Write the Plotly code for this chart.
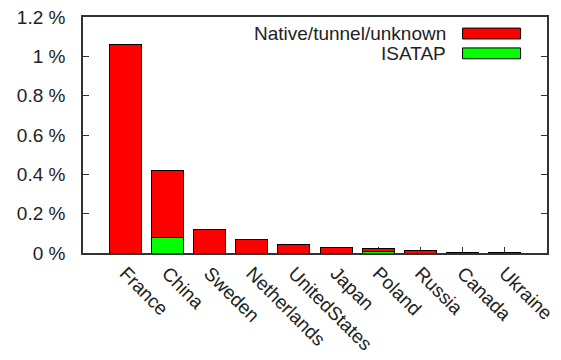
import plotly.graph_objects as go

countries = ["France", "China", "Sweden", "Netherlands", "UnitedStates",
             "Japan", "Poland", "Russia", "Canada", "Ukraine"]
isatap = [0.0, 0.08, 0.0, 0.0, 0.0, 0.0, 0.006, 0.0, 0.0, 0.0]
native = [1.06, 0.34, 0.12, 0.068, 0.043, 0.029, 0.017, 0.014, 0.003, 0.003]
ytick_vals = [0, 0.2, 0.4, 0.6, 0.8, 1.0, 1.2]
ytick_text = ["0 %", "0.2 %", "0.4 %", "0.6 %", "0.8 %", "1 %", "1.2 %"]
legend_names = ["Native/tunnel/unknown", "ISATAP"]
legend_colors = ["#ff0000", "#00ff00"]

FONT = "Liberation Sans, Arial, sans-serif"
TXT = "#222222"
FS = 19

fig = go.Figure()
fig.add_trace(go.Bar(x=countries, y=isatap, name=legend_names[1],
                     marker=dict(color=legend_colors[1], line=dict(color="black", width=1)),
                     width=0.76, showlegend=False))
fig.add_trace(go.Bar(x=countries, y=native, name=legend_names[0],
                     marker=dict(color=legend_colors[0], line=dict(color="black", width=1)),
                     width=0.76, showlegend=False))

# legend drawn manually (text right-aligned, swatch on right)
leg_y = [0.930, 0.846]
for name, col, yy in zip(legend_names, legend_colors, leg_y):
    fig.add_annotation(xref="paper", yref="paper", x=0.787, y=yy,
                       text=name, showarrow=False, xanchor="right", yanchor="middle",
                       font=dict(family=FONT, size=FS, color=TXT))
    fig.add_shape(type="rect", xref="paper", yref="paper",
                  x0=0.818, x1=0.943, y0=yy - 0.023, y1=yy + 0.023,
                  fillcolor=col, line=dict(color="black", width=1))

# page body has an 8px margin, so offsets are compensated here
fig.update_layout(
    barmode="stack",
    width=561, height=360,
    margin=dict(l=75, r=22, t=9, b=115),
    plot_bgcolor="white", paper_bgcolor="white",
    font=dict(family=FONT, size=FS, color=TXT),
)
fig.update_xaxes(range=[-1, 10], tickangle=45, showline=True, linecolor="#333",
                 linewidth=1.5, mirror=True, ticks="inside", ticklen=6,
                 tickcolor="#333", showgrid=False, layer="below traces",
                 automargin=False, ticklabelstandoff=0, ticklabeloverflow="allow",
                 tickfont=dict(family=FONT, size=FS, color=TXT))
fig.update_yaxes(range=[0, 1.2], tickvals=ytick_vals, ticktext=ytick_text,
                 showline=True, linecolor="#333", linewidth=1.5, mirror="ticks",
                 ticks="inside", ticklen=6, tickcolor="#333", showgrid=False,
                 zeroline=False, automargin=False, ticklabelstandoff=12,
                 ticklabeloverflow="allow",
                 tickfont=dict(family=FONT, size=FS, color=TXT),
                 layer="below traces")

fig.write_html("out.html")
